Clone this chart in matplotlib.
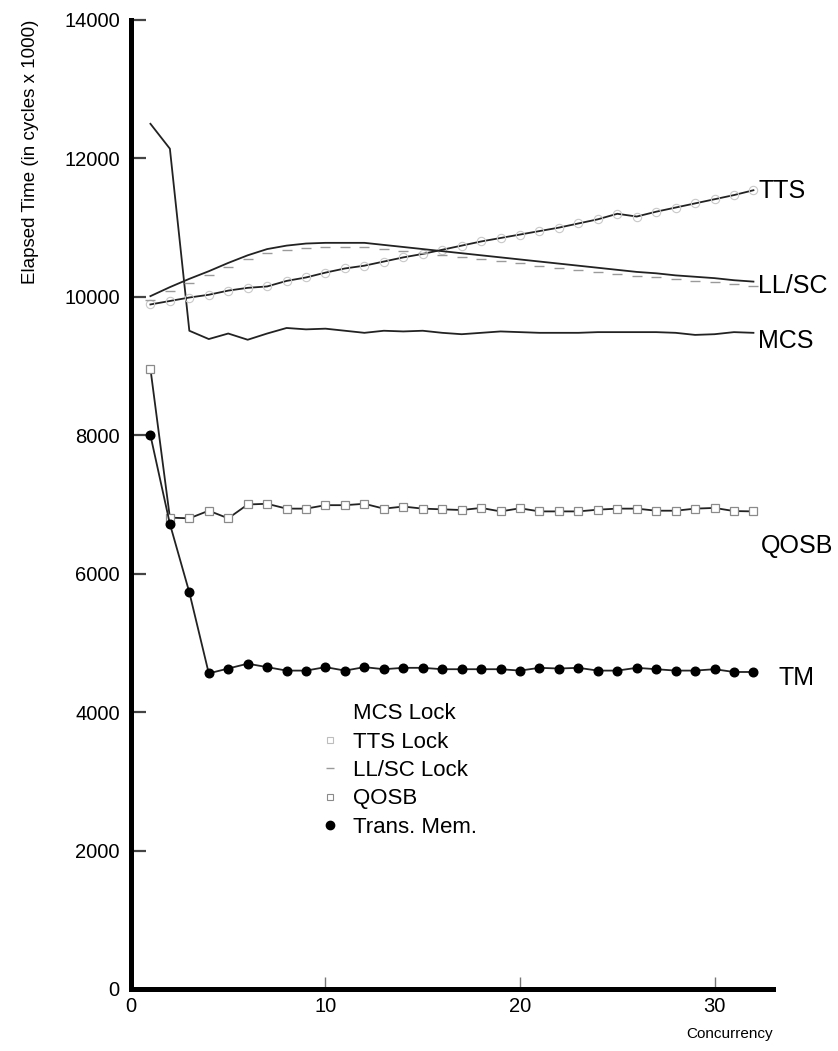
import numpy as np
import matplotlib
matplotlib.use('Agg')
import matplotlib.pyplot as plt
from matplotlib.lines import Line2D
from matplotlib.transforms import offset_copy

plt.rcParams['font.family'] = ['Liberation Sans', 'DejaVu Sans']

# concurrency levels
conc = list(range(1, 33))

# elapsed time (cycles x 1000)
mcs = [12500, 12140, 9510, 9390, 9470, 9380, 9470, 9550, 9530, 9540, 9510, 9480,
       9510, 9500, 9510, 9480, 9460, 9480, 9500, 9490, 9480, 9480, 9480, 9490,
       9490, 9490, 9490, 9480, 9450, 9460, 9490, 9480]
tts = [9890, 9940, 9990, 10030, 10090, 10130, 10150, 10230, 10280, 10350, 10410, 10450,
       10510, 10570, 10620, 10680, 10740, 10800, 10850, 10900, 10950, 11000, 11060, 11120,
       11200, 11160, 11230, 11290, 11350, 11410, 11470, 11540]
llsc = [10010, 10140, 10260, 10370, 10490, 10600, 10690, 10740, 10770, 10780, 10780, 10780,
        10750, 10720, 10690, 10660, 10630, 10600, 10570, 10540, 10510, 10480, 10450, 10420,
        10390, 10360, 10340, 10310, 10290, 10270, 10240, 10220]
qosb = [8960, 6810, 6800, 6910, 6800, 7000, 7010, 6940, 6940, 6990, 6990, 7010,
        6940, 6970, 6940, 6930, 6920, 6950, 6900, 6945, 6900, 6900, 6900, 6925,
        6940, 6940, 6910, 6910, 6940, 6950, 6905, 6900]
tm = [8000, 6720, 5730, 4560, 4630, 4700, 4650, 4600, 4600, 4650, 4600, 4650,
      4620, 4640, 4640, 4620, 4620, 4620, 4620, 4600, 4640, 4630, 4640, 4600,
      4600, 4640, 4620, 4600, 4600, 4620, 4580, 4580]

legend_labels = ['MCS Lock', 'TTS Lock', 'LL/SC Lock', 'QOSB', 'Trans. Mem.']
end_labels = ['TTS', 'LL/SC', 'MCS', 'QOSB', 'TM']


def main():
	fig = plt.figure(figsize=(8.38, 10.51), dpi=100)
	ax = fig.add_axes([0.1563, 0.059, 0.766, 0.922])

	lc = '#222222'
	lw = 1.3

	# [ lines ]
	ax.plot(conc, mcs, color=lc, lw=lw)
	ax.plot(conc, tts, color=lc, lw=lw, marker='o', ms=6, mfc='none', mec='#c8c8c8', mew=0.8)
	ax.plot(conc, llsc, color=lc, lw=lw)
	# dash markers of LL/SC sit a few px below the line in the scan
	shifted = offset_copy(ax.transData, fig=fig, x=0, y=-4, units='dots')
	ax.plot(conc, llsc, linestyle='none', marker='_', ms=7, mec='#9a9a9a', mew=1.0, transform=shifted)
	ax.plot(conc, qosb, color=lc, lw=lw, marker='s', ms=6.2, mfc='white', mec='#8a8a8a', mew=0.9)
	ax.plot(conc, tm, color=lc, lw=lw, marker='o', ms=6.2, mfc='black', mec='black')

	# [ end labels ]
	ends = [tts[-1], llsc[-1], mcs[-1], qosb[-1], tm[-1]]
	offs = [(3.5, -0.5), (3.5, -3.5), (3.5, -6), (5.5, -25), (18, -4)]
	for lab, v, o in zip(end_labels, ends, offs):
		ax.annotate(lab, xy=(conc[-1], v), xytext=o, textcoords='offset points',
			ha='left', va='center', fontsize=18, color='black', annotation_clip=False)

	# [ axes ]
	ax.set_xlim(0, 33)
	ax.set_ylim(0, 14000)
	ax.set_xticks([0, 10, 20, 30])
	ax.set_yticks(np.arange(0, 14001, 2000))
	for s in ['top', 'right']:
		ax.spines[s].set_visible(False)
	for s in ['left', 'bottom']:
		ax.spines[s].set_linewidth(3.6)
		ax.spines[s].set_color('black')
	ax.tick_params(axis='y', direction='in', length=11, width=1.6, color='#444444',
		labelsize=14.5, pad=8)
	ax.tick_params(axis='x', direction='in', length=9, width=1.0, color='#777777',
		labelsize=14.5, pad=6)

	ax.set_xlabel('Concurrency', fontsize=11, loc='right', labelpad=8)
	ax.set_ylabel('Elapsed Time (in cycles x 1000)', fontsize=13.5, loc='top', labelpad=18)

	# [ legend ] markers only, no lines
	handles = [
		Line2D([], [], linestyle='none', marker=None),
		Line2D([], [], linestyle='none', marker='s', ms=5, mfc='none', mec='#bdbdbd', mew=0.8),
		Line2D([], [], linestyle='none', marker='_', ms=6, mec='#9a9a9a', mew=1.0),
		Line2D([], [], linestyle='none', marker='s', ms=5, mfc='none', mec='#8a8a8a', mew=0.8),
		Line2D([], [], linestyle='none', marker='o', ms=6, mfc='black', mec='black'),
	]
	ax.legend(handles, legend_labels, loc='upper left', bbox_to_anchor=(0.279, 0.304),
		frameon=False, fontsize=16, handlelength=1.0, handletextpad=0.55,
		labelspacing=0.33, borderaxespad=0)

	fig.savefig('out.png', dpi=100)


if __name__ == "__main__":
	main()
